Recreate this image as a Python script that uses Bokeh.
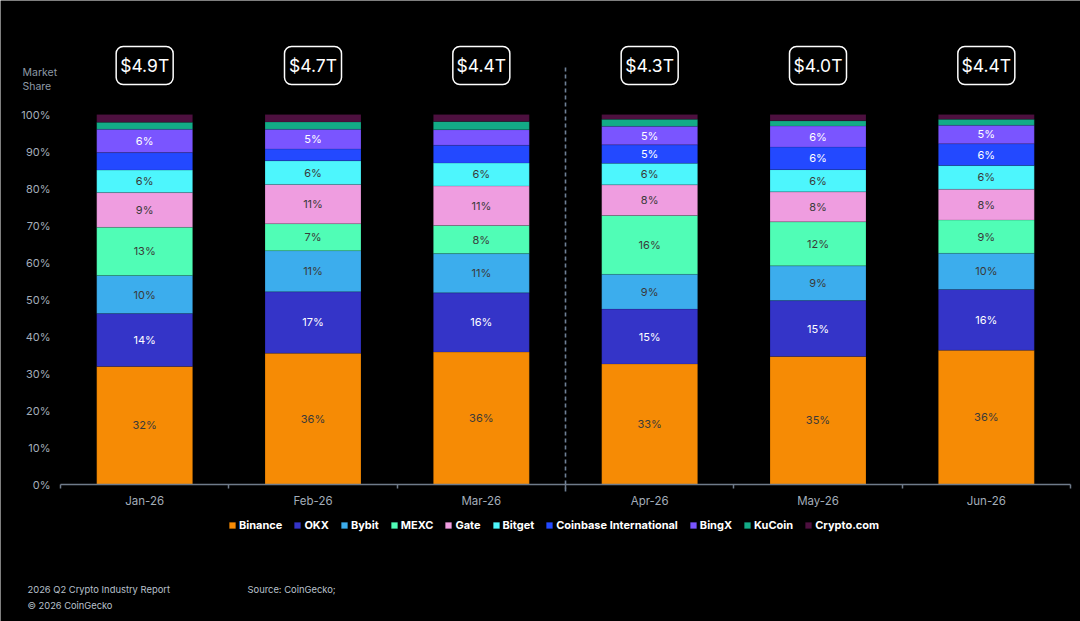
from bokeh.plotting import figure
from bokeh.models import (Range1d, FixedTicker, PrintfTickFormatter, Legend, LegendItem,
                          Label, ColumnDataSource)
from bokeh.core.properties import value
from bokeh.embed import file_html
from bokeh.resources import INLINE

months = ["Jan-26", "Feb-26", "Mar-26", "Apr-26", "May-26", "Jun-26"]
totals = ["$4.9T", "$4.7T", "$4.4T", "$4.3T", "$4.0T", "$4.4T"]
exchanges = ["Binance", "OKX", "Bybit", "MEXC", "Gate", "Bitget",
             "Coinbase International", "BingX", "KuCoin", "Crypto.com"]
binance = [31.9, 35.5, 35.8, 32.6, 34.6, 36.3]
okx = [14.3, 16.6, 16.0, 14.8, 15.1, 16.4]
bybit = [10.3, 11.1, 10.6, 9.4, 9.4, 9.8]
mexc = [13.0, 7.3, 7.6, 15.9, 11.9, 9.0]
gate = [9.4, 10.6, 10.7, 8.3, 8.1, 8.3]
bitget = [6.1, 6.4, 6.2, 5.8, 6.0, 6.4]
coinbase = [4.7, 3.2, 4.8, 5.0, 6.1, 5.9]
bingx = [6.3, 5.3, 4.2, 5.0, 5.7, 5.0]
kucoin = [1.9, 2.0, 2.2, 1.9, 1.4, 1.6]
cryptocom = [2.1, 2.0, 1.9, 1.3, 1.7, 1.3]
y_ticks = [0, 10, 20, 30, 40, 50, 60, 70, 80, 90, 100]

series = [binance, okx, bybit, mexc, gate, bitget, coinbase, bingx, kucoin, cryptocom]
keys = ["s%d" % i for i in range(len(exchanges))]
colors = ["#F68B05", "#3434C8", "#3CADED", "#50FDB6", "#EF9DE0", "#4DF6FD",
          "#2349FF", "#7A55FF", "#13AB87", "#4D103F"]
label_colors = ["#3a3a3a", "#ffffff", "#3a3a3a", "#3a3a3a", "#3a3a3a", "#3a3a3a",
                "#ffffff", "#ffffff", "#3a3a3a", "#ffffff"]

FONT = "Inter"
W, H = 1080, 621
X0, X1 = 60.0, 1070.0     # pixel extent of the category axis
Y0 = 484.0                # pixel row of 0%
PX = 3.70                 # px per percent
UX = (X1 - X0) / len(months)

def dx(px):
    return (px - X0) / UX

def dy(py):
    return (Y0 - py) / PX

p = figure(width=W, height=H, output_backend="svg", toolbar_location=None,
           x_range=Range1d(dx(0), dx(W)), y_range=Range1d(dy(H), dy(0)),
           min_border_left=0, min_border_right=0, min_border_top=0, min_border_bottom=0,
           background_fill_color="#000000", border_fill_color="#000000")
p.outline_line_color = None
p.xgrid.visible = False
p.ygrid.visible = False

xc = [i + 0.5 for i in range(len(months))]
data = {"x": xc}
for k, s in zip(keys, series):
    data[k] = s
src = ColumnDataSource(data)
renderers = p.vbar_stack(keys, x="x", width=0.57, color=colors, source=src,
                         line_color="#000000", line_alpha=0.12, line_width=1)

# segment labels
tx, ty, tt, tc = [], [], [], []
for j in range(len(months)):
    bottom = 0.0
    for i, s in enumerate(series):
        v = s[j]
        if v >= 5:
            tx.append(xc[j])
            ty.append(bottom + v / 2)
            tt.append("%d%%" % int(v + 0.5))
            tc.append(label_colors[i])
        bottom += v
p.text(x=tx, y=ty, text=tt, text_color=tc, text_font=value(FONT), text_font_size="11px",
       text_align="center", text_baseline="middle")

# dashed separator between Mar and Apr
p.segment(x0=[3], y0=[dy(491)], x1=[3], y1=[dy(67)], line_color="#6f8096",
          line_width=1.6, line_dash="4 3")

# totals boxes
box_y = [dy(65)] * len(months)
p.rect(x=xc, y=box_y, width=57, height=38, width_units="screen", height_units="screen",
       fill_color="#000000", line_color="#ffffff", line_width=1.5, border_radius=7)
p.text(x=xc, y=box_y, text=totals, text_color="#ffffff", text_font=value(FONT),
       text_font_size="17.5px", text_align="center", text_baseline="middle")

# axes (drawn at fixed data locations inside the full-canvas frame)
xa = p.xaxis[0]
xa.fixed_location = 0
xa.bounds = (0, len(months))
xa.ticker = FixedTicker(ticks=xc, minor_ticks=list(range(len(months) + 1)))
xa.major_label_overrides = {x: m for x, m in zip(xc, months)}
xa.major_tick_line_color = None
xa.major_tick_out = 0
xa.major_tick_in = 0
xa.minor_tick_line_color = "#6f7b8a"
xa.minor_tick_line_width = 1.5
xa.minor_tick_out = 4
xa.minor_tick_in = 0
xa.axis_line_color = "#6f7b8a"
xa.axis_line_width = 1.5
xa.major_label_standoff = 5
xa.major_label_text_color = "#a3adb9"
xa.major_label_text_font = FONT
xa.major_label_text_font_size = "11.5px"

ya = p.yaxis[0]
ya.fixed_location = 0
ya.bounds = (0, 100)
ya.ticker = FixedTicker(ticks=y_ticks)
ya.formatter = PrintfTickFormatter(format="%d%%")
ya.axis_line_color = None
ya.major_tick_line_color = None
ya.minor_tick_line_color = None
ya.major_tick_out = 0
ya.major_label_standoff = 10
ya.major_label_text_color = "#a3adb9"
ya.major_label_text_font = FONT
ya.major_label_text_font_size = "11px"

# legend
items = [LegendItem(label=name, renderers=[r]) for name, r in zip(exchanges, renderers)]
legend = Legend(items=items, orientation="horizontal", location=(228, H - 532),
                background_fill_alpha=0, border_line_color=None,
                label_text_color="#ffffff", label_text_font=FONT, label_text_font_size="11px",
                label_text_font_style="bold", glyph_width=8, glyph_height=8,
                label_standoff=3, spacing=11, padding=0, margin=0, label_height=14)
p.add_layout(legend, "center")

# texts
def txt(x_px, y_px, s, size="11px", color="#8d99a6"):
    p.add_layout(Label(x=dx(x_px), y=dy(y_px), text=s,
                       text_font=FONT, text_font_size=size, text_color=color,
                       text_align="left", text_baseline="middle"))

txt(22, 72, "Market", "10.5px")
txt(22, 86, "Share", "10.5px")
txt(27, 589, "2026 Q2 Crypto Industry Report", "9.4px", "#b9c1cc")
txt(247, 589, "Source: CoinGecko;", "9.4px", "#b9c1cc")
txt(27, 605, "\u00a9 2026 CoinGecko", "9.3px", "#b9c1cc")

open("out.html", "w").write(file_html(p, INLINE))
